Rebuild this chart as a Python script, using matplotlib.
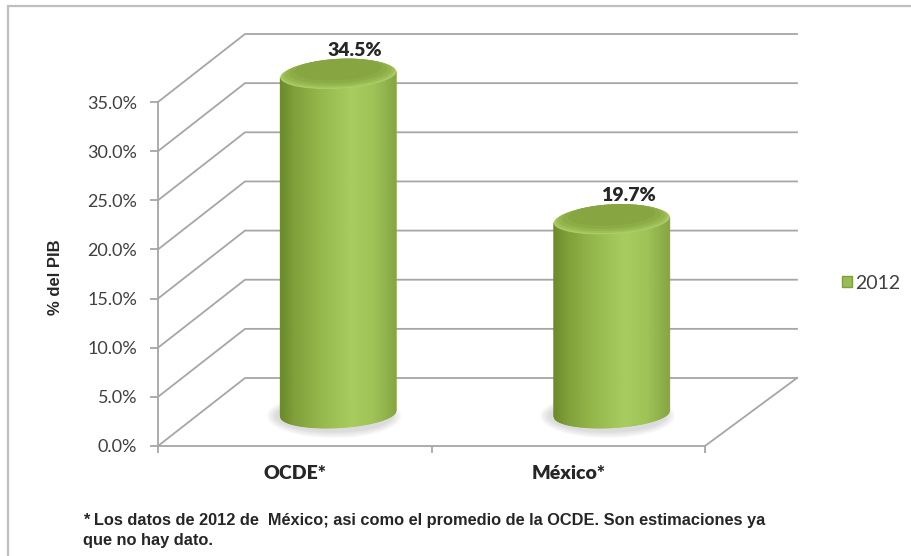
import numpy as np
import matplotlib
matplotlib.use('Agg')
import matplotlib.pyplot as plt
from matplotlib.patches import Polygon, Ellipse, Patch, Rectangle
from matplotlib.colors import LinearSegmentedColormap
from matplotlib.ticker import FuncFormatter

# ---- data ----
categories = ['OCDE*', 'México*']
values = [34.5, 19.7]
series_name = '2012'
yticks = [0, 5, 10, 15, 20, 25, 30, 35]
value_labels = ['34.5%', '19.7%']
ylabel = '% del PIB'
footnote_lines = ['* Los datos de 2012 de  México; asi como el promedio de la OCDE. Son estimaciones ya',
                  'que no hay dato.']

plt.rcParams['font.family'] = ['Lato', 'DejaVu Sans']

W, H = 912, 556
fig = plt.figure(figsize=(W / 100, H / 100), dpi=100)
fig.patch.set_facecolor('white')
ax = fig.add_axes([158 / W, (H - 446) / H, (705 - 158) / W, (446 - 102) / H])
ax.set_xlim(-0.5, 1.5)
ax.set_ylim(0, 35)
ax.patch.set_alpha(0)

grid_c = '#a6a6a6'
lw = 1.3
DX = 87 / 273.5      # depth offset in x units
DY = 68 / 9.83       # depth offset in y units
XEND = 1.5 + 92 / 273.5

# back wall + side wall lines
for v in yticks:
    ax.plot([-0.5, -0.5 + DX, XEND], [v, v + DY, v + DY], color=grid_c, lw=lw,
            clip_on=False, solid_joinstyle='miter', zorder=1)
ax.plot([1.5, XEND], [0, DY], color=grid_c, lw=lw, clip_on=False, zorder=1)

for s in ['top', 'right']:
    ax.spines[s].set_visible(False)
for s in ['left', 'bottom']:
    ax.spines[s].set_color(grid_c)
    ax.spines[s].set_linewidth(lw)

# cylinders
cmap = LinearSegmentedColormap.from_list('cyl', [
    (0.0, '#6a892b'), (0.12, '#7f9f38'), (0.35, '#95b84c'), (0.62, '#a9cc60'),
    (0.82, '#9fc257'), (1.0, '#85a640')])
a = 0.212
b = 1.45
k = 0.3
for i, v in enumerate(values):
    cx = i + DX / 2
    yb = DY / 2 - 0.15
    yt = yb + v
    # shadow
    for j in range(7):
        sc = 1.16 - j * 0.025
        ax.add_patch(Ellipse((cx - 0.015, yb - 0.25), 2 * a * sc, 2 * b * (1.55 - j * 0.07),
                             facecolor='#707070', edgecolor='none', alpha=0.035,
                             clip_on=False, zorder=2))
    # body
    N = 120
    xs = np.linspace(cx - a, cx + a, N + 1)
    u = (xs - cx) / a
    lower = -b * np.sqrt(np.clip(1 - u ** 2, 0, 1)) + k * u
    for n in range(N):
        col = cmap((n + 0.5) / N)
        poly = [(xs[n], yb + lower[n]), (xs[n + 1], yb + lower[n + 1]),
                (xs[n + 1], yt + lower[n + 1]), (xs[n], yt + lower[n])]
        ax.add_patch(Polygon(poly, closed=True, facecolor=col, edgecolor=col,
                             lw=0.6, clip_on=False, zorder=3))
    # top ellipse
    t = np.linspace(0, 2 * np.pi, 200)
    tops = [(1.0, 0.0, '#abcb66'), (0.97, 0.10, '#9ebf57'), (0.92, 0.22, '#94b44d'),
            (0.85, 0.35, '#8cac46'), (0.75, 0.50, '#87a642')]
    for sc, up, col in tops:
        px = cx + a * sc * np.cos(t)
        py = yt + up + b * sc * np.sin(t) + k * sc * np.cos(t)
        ax.add_patch(Polygon(np.column_stack([px, py]), closed=True, facecolor=col,
                             edgecolor='none', clip_on=False, zorder=4))
    ax.text(cx + 0.06, yt + b + 1.0, value_labels[i], ha='center', va='center',
            fontsize=14, fontweight='heavy', color='#262626', clip_on=False, zorder=5)

# axes ticks
ax.set_yticks(yticks)
ax.yaxis.set_major_formatter(FuncFormatter(lambda y, p: f'{y:.1f}%'))
ax.tick_params(axis='y', length=6, width=lw, color=grid_c, labelsize=13,
               labelcolor='#404040', pad=9)
ax.set_xticks([0, 1])
ax.set_xticklabels(categories, fontsize=14, fontweight='heavy', color='#262626')
ax.set_xticks([-0.5, 0.5, 1.5], minor=True)
ax.tick_params(axis='x', which='major', length=0, pad=14)
ax.tick_params(axis='x', which='minor', length=5, width=lw, color=grid_c)
ax.set_ylabel(ylabel, fontsize=12, fontweight='bold', color='#262626',
              family=['Liberation Sans', 'DejaVu Sans'])
ax.yaxis.set_label_coords(-0.174, 0.491)

# legend
handles = [Patch(facecolor='#9bbb59', edgecolor='#7f9f3f', label=series_name)]
fig.legend(handles=handles, loc='center left', bbox_to_anchor=(842 / W, 1 - 283 / H),
           frameon=False, prop={'size': 14}, handlelength=0.5, handleheight=0.5,
           handletextpad=0.2, borderpad=0, borderaxespad=0, labelcolor='#404040')

# footnote
fig.text(83 / W, 1 - 521 / H, footnote_lines[0], va='center', ha='left', fontsize=11.8,
         fontweight='bold', color='#262626', family=['Liberation Sans', 'DejaVu Sans'])
fig.text(83 / W, 1 - 540 / H, footnote_lines[1], va='center', ha='left', fontsize=11.8,
         fontweight='bold', color='#262626', family=['Liberation Sans', 'DejaVu Sans'])

# chart border
fig.patches.append(Rectangle((8 / W, -0.1), 1.2, 1.1 - 6 / H, transform=fig.transFigure,
                             fill=False, edgecolor='#bfbfbf', lw=1.6))

fig.savefig('out.png', dpi=100)
